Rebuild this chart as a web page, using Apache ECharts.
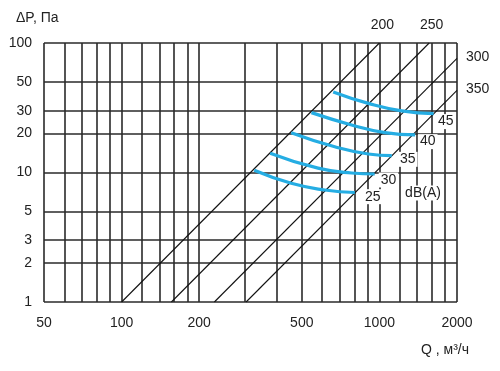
<!DOCTYPE html>
<html>
<head>
<meta charset="utf-8">
<script src="https://cdn.jsdelivr.net/npm/echarts@6/dist/echarts.min.js"></script>
<style>
html,body{margin:0;padding:0;background:#fff;}
#chart{width:500px;height:371px;}
</style>
</head>
<body>
<div id="chart"></div>
<script>
// ---- data ----
const xGridValues = [50,60,70,80,90,100,120,140,160,180,200,300,400,500,600,700,800,900,1000,1200,1400,1600,1800,2000];
const xLabelValues = [50,100,200,500,1000,2000];
const yGridValues = [1,2,3,5,10,20,30,50,100];
const yLabelValues = [1,2,3,5,10,20,30,50,100];

// duct lines (diameter label, [Q, dP] endpoints)
const duct200 = [[100,1],[1000,100]];
const duct250 = [[156,1],[1560,100]];
const duct300 = [[229,1],[2000,76]];
const duct350 = [[304,1],[2000,43]];

// noise curves dB(A)
const db45 = [[662,41.9],[906,34.2],[1221,29.9],[1623,28.5]];
const db40 = [[545,29.0],[780,23.3],[1051,20.3],[1376,19.5]];
const db35 = [[455,20.3],[671,15.8],[906,13.9],[1117,13.5]];
const db30 = [[377,14.1],[578,10.8],[780,9.91],[959,9.74]];
const db25 = [[327,10.4],[455,8.25],[614,7.33],[803,7.01]];

const FONT = '"Liberation Sans", Arial, sans-serif';
const TXT = '#222';

const chart = echarts.init(document.getElementById('chart'), null, {renderer:'canvas'});

function ductSeries(name, data, labelOpt){
  return {
    type:'line', name:name, data:data, symbol:'none', silent:true,
    lineStyle:{color:'#111', width:1.1},
    z:3,
    endLabel:Object.assign({show:true, formatter:name, color:TXT, fontSize:14, fontFamily:FONT, distance:0}, labelOpt)
  };
}
function dbSeries(name, data, offset){
  return {
    type:'line', name:name, data:data, symbol:'none', smooth:0.5, silent:true,
    lineStyle:{color:'#25ade3', width:3.2},
    z:4,
    endLabel:{show:true, formatter:name, color:TXT, fontSize:14, fontFamily:FONT,
      distance:0, align:'left', verticalAlign:'middle', offset:offset,
      backgroundColor:'#fff', padding:[1,2,0,2]}
  };
}

const option = {
  animation:false,
  backgroundColor:'#fff',
  grid:{left:44, right:43, top:43, bottom:69, outerBoundsMode:'none', containLabel:false},
  xAxis:{
    type:'log', logBase:10, min:50, max:2000,
    axisLine:{show:false},
    axisTick:{show:false, customValues:xGridValues},
    axisLabel:{customValues:xLabelValues, color:TXT, fontSize:14, fontFamily:FONT, margin:14,
      formatter:function(v){ return String(Math.round(v)); }},
    splitLine:{show:true, lineStyle:{color:'#2a2a2a', width:1.6}},
    minorSplitLine:{show:false}
  },
  yAxis:{
    type:'log', logBase:10, min:1, max:100,
    axisLine:{show:false},
    axisTick:{show:false, customValues:yGridValues},
    axisLabel:{customValues:yLabelValues, color:TXT, fontSize:14, fontFamily:FONT, margin:12,
      formatter:function(v){ return String(Math.round(v)); }},
    splitLine:{show:true, lineStyle:{color:'#2a2a2a', width:1.6}}
  },
  graphic:[
    {type:'text', left:16, top:11, style:{text:'ΔP, Па', fill:TXT, font:'14px '+FONT}},
    {type:'text', x:445, y:350, style:{text:'Q , м³/ч', fill:TXT, font:'14px '+FONT, align:'center', verticalAlign:'middle'}},
    {type:'text', x:423, y:193, z:10, style:{text:'dB(A)', fill:TXT, font:'14px '+FONT, align:'center', verticalAlign:'middle', backgroundColor:'#fff', padding:[1,1,0,1]}}
  ],
  series:[
    ductSeries('200', duct200, {align:'center', verticalAlign:'middle', offset:[3,-18]}),
    ductSeries('250', duct250, {align:'center', verticalAlign:'middle', offset:[2.5,-18]}),
    ductSeries('300', duct300, {align:'center', verticalAlign:'middle', offset:[20.7,-1.7]}),
    ductSeries('350', duct350, {align:'center', verticalAlign:'middle', offset:[20.7,-1.5]}),
    dbSeries('45', db45, [2.4,8]),
    dbSeries('40', db40, [2.8,6.7]),
    dbSeries('35', db35, [6.2,3.7]),
    dbSeries('30', db30, [4,6]),
    dbSeries('25', db25, [8.2,4.2])
  ]
};
chart.setOption(option);
</script>
</body>
</html>
